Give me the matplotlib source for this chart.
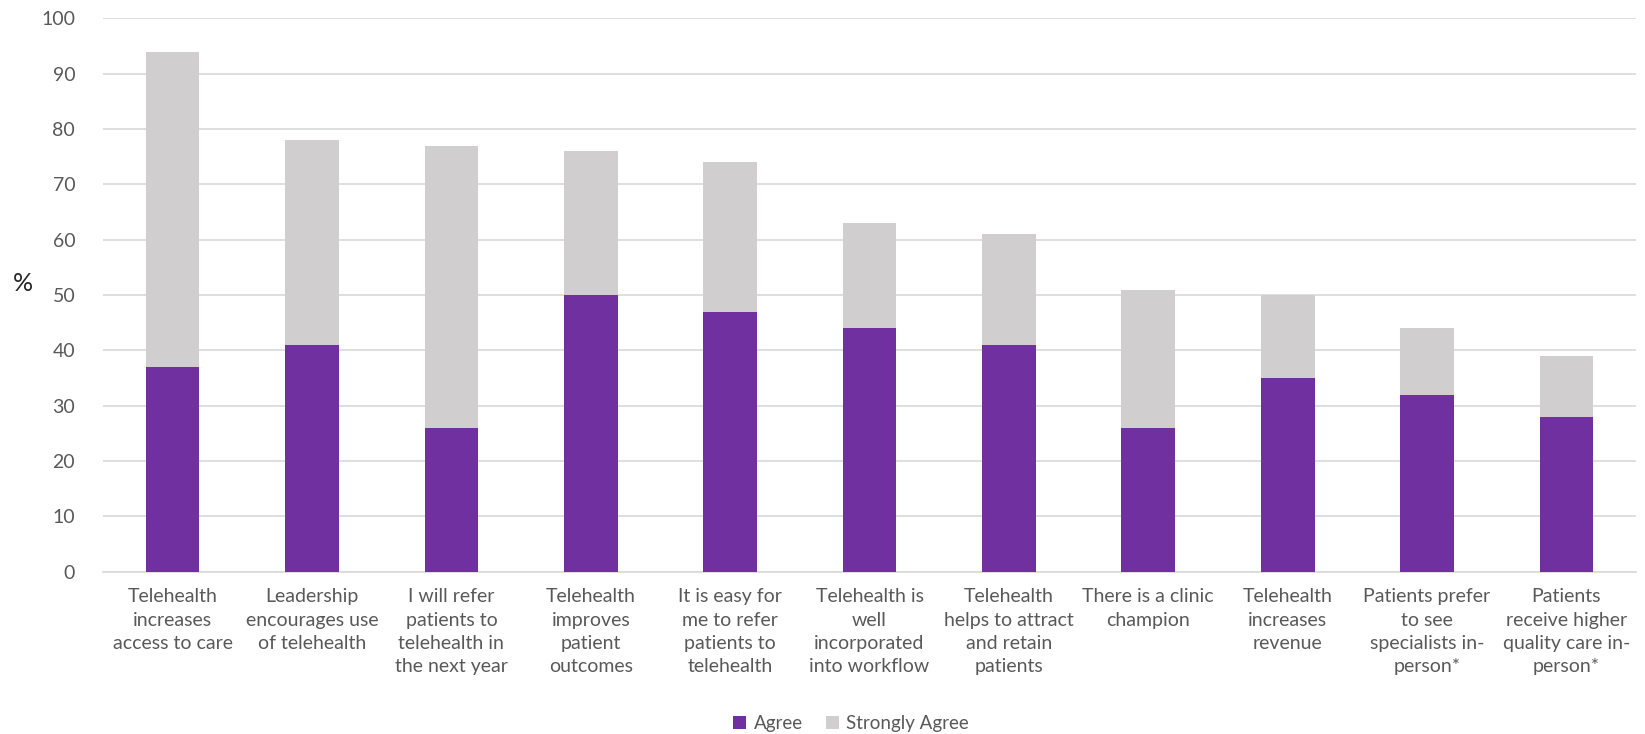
import matplotlib
matplotlib.use("Agg")
from matplotlib import pyplot as plt

categories = [
    "Telehealth\nincreases\naccess to care",
    "Leadership\nencourages use\nof telehealth",
    "I will refer\npatients to\ntelehealth in\nthe next year",
    "Telehealth\nimproves\npatient\noutcomes",
    "It is easy for\nme to refer\npatients to\ntelehealth",
    "Telehealth is\nwell\nincorporated\ninto workflow",
    "Telehealth\nhelps to attract\nand retain\npatients",
    "There is a clinic\nchampion",
    "Telehealth\nincreases\nrevenue",
    "Patients prefer\nto see\nspecialists in-\nperson*",
    "Patients\nreceive higher\nquality care in-\nperson*",
]
agree = [37, 41, 26, 50, 47, 44, 41, 26, 35, 32, 28]
strongly_agree = [57, 37, 51, 26, 27, 19, 20, 25, 15, 12, 11]

plt.rcParams['font.family'] = ['Lato', 'DejaVu Sans']

fig = plt.figure(figsize=(16.45, 7.34), dpi=100)
ax = fig.add_axes([0.0626, 0.221, 0.932, 0.754])

x = list(range(len(categories)))
w = 0.385
ax.bar(x, agree, w, color="#7030A0", label="Agree", zorder=3)
ax.bar(x, strongly_agree, w, bottom=agree, color="#D0CECE", label="Strongly Agree", zorder=3)

ax.set_ylim(0, 100)
ax.set_xlim(-0.5, len(categories) - 0.5)
ax.set_yticks(range(0, 101, 10))
ax.yaxis.grid(True, color="#D9D9D9", linewidth=1.2, zorder=0)
for s in ["top", "right", "left"]:
    ax.spines[s].set_visible(False)
ax.spines["bottom"].set_color("#D9D9D9")
ax.spines["bottom"].set_linewidth(1.2)
ax.tick_params(length=0, colors="#595959", labelsize=14)
ax.tick_params(axis="y", pad=20)
ax.set_xticks(x)
ax.set_xticklabels(categories, linespacing=1.45)
ax.tick_params(axis="x", pad=12)

ax.set_ylabel("%", rotation=0, fontsize=18, color="#262626")
ax.yaxis.set_label_coords(-0.052, 0.5)

ax.legend(loc="lower center", bbox_to_anchor=(0.488, -0.32), ncol=2, frameon=False,
          fontsize=13.5, labelcolor="#595959", handlelength=0.7, handleheight=0.7,
          columnspacing=1.2, handletextpad=0.4)

fig.savefig("out.png", dpi=100)
